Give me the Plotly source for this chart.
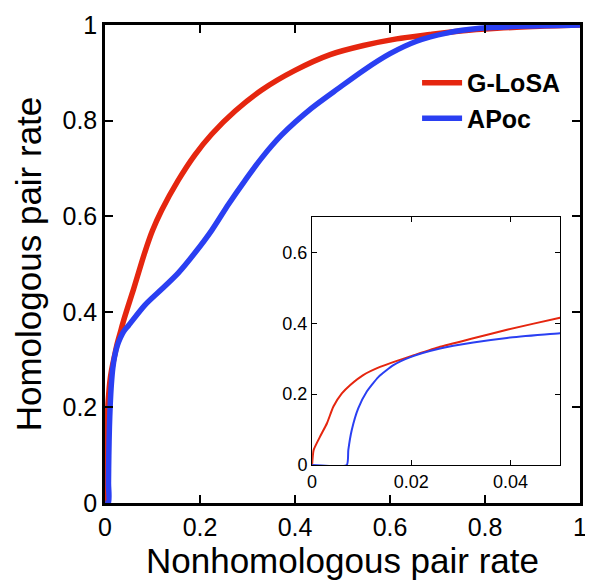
import plotly.graph_objects as go

# G-LoSA ROC-like curve (nonhomologous rate -> homologous rate)
glosa_x = [0, 0.0003, 0.0016, 0.003, 0.0043, 0.006, 0.0077, 0.0103, 0.0137, 0.0171,
           0.0201, 0.0258, 0.0325, 0.0393, 0.05, 0.06, 0.084, 0.10, 0.119, 0.154, 0.189,
           0.225, 0.274, 0.33, 0.40, 0.474, 0.544, 0.614, 0.684, 0.754, 0.825, 0.9, 1.0]
glosa_y = [0, 0.042, 0.080, 0.118, 0.165, 0.202, 0.226, 0.254, 0.277, 0.294,
           0.308, 0.334, 0.358, 0.382, 0.416, 0.447, 0.525, 0.570, 0.612, 0.675, 0.728,
           0.772, 0.820, 0.864, 0.905, 0.938, 0.957, 0.971, 0.980, 0.988, 0.993, 0.997, 1.0]

# APoc curve
apoc_x = [0, 0.007, 0.0073, 0.008, 0.0093, 0.011, 0.0134, 0.0164, 0.0201, 0.0258,
          0.0325, 0.0393, 0.05, 0.084, 0.119, 0.154, 0.189, 0.225, 0.26, 0.295,
          0.33, 0.372, 0.435, 0.495, 0.544, 0.6, 0.656, 0.719, 0.789, 0.9, 1.0]
apoc_y = [0, 0, 0.042, 0.099, 0.160, 0.207, 0.249, 0.282, 0.306, 0.329,
          0.346, 0.359, 0.372, 0.414, 0.447, 0.481, 0.523, 0.571, 0.625, 0.675,
          0.722, 0.770, 0.826, 0.870, 0.905, 0.940, 0.966, 0.983, 0.993, 0.998, 1.0]

series_names = ["G-LoSA", "APoc"]
RED = "#e5260f"
BLUE = "#2a3ff2"
FONT = "Liberation Sans, Arial, sans-serif"

main_ticks = [0, 0.2, 0.4, 0.6, 0.8, 1]
inset_xticks = [0, 0.02, 0.04]
inset_yticks = [0, 0.2, 0.4, 0.6]

fig = go.Figure()
fig.add_trace(go.Scatter(x=glosa_x, y=glosa_y, mode="lines", name=series_names[0],
                         line=dict(color=RED, width=5.5, shape="spline", smoothing=0.8)))
fig.add_trace(go.Scatter(x=apoc_x, y=apoc_y, mode="lines", name=series_names[1],
                         line=dict(color=BLUE, width=5.5, shape="spline", smoothing=0.8)))
fig.add_trace(go.Scatter(x=glosa_x, y=glosa_y, mode="lines", showlegend=False,
                         xaxis="x2", yaxis="y2",
                         line=dict(color=RED, width=2, shape="spline", smoothing=0.5)))
fig.add_trace(go.Scatter(x=apoc_x, y=apoc_y, mode="lines", showlegend=False,
                         xaxis="x2", yaxis="y2",
                         line=dict(color=BLUE, width=2, shape="spline", smoothing=0.5)))

axis_common = dict(showgrid=False, zeroline=False, showline=True, linecolor="black",
                   mirror="ticks", ticks="inside", tickcolor="black", automargin=False)

# page body has an 8px margin, so the figure is 8px smaller and margins shifted
fig.update_layout(
    width=585, height=574,
    margin=dict(l=97, r=13, t=17, b=79),
    plot_bgcolor="white", paper_bgcolor="white",
    font=dict(family=FONT, color="black"),
    xaxis=dict(range=[0, 1], tickvals=main_ticks, linewidth=2.5, ticklen=8, tickwidth=2,
               tickfont=dict(size=25),
               title=dict(text="Nonhomologous pair rate", font=dict(size=35), standoff=6),
               **axis_common),
    yaxis=dict(range=[0, 1], tickvals=main_ticks, linewidth=2.5, ticklen=8, tickwidth=2,
               tickfont=dict(size=25),
               title=dict(text="Homologous pair rate", font=dict(size=35), standoff=11),
               **axis_common),
    xaxis2=dict(domain=[0.436, 0.958], anchor="y2", range=[0, 0.05], tickvals=inset_xticks,
                ticktext=["0", "0.02", "0.04"], linewidth=1.2, ticklen=5, tickwidth=1,
                tickfont=dict(size=18), **axis_common),
    yaxis2=dict(domain=[0.0795, 0.598], anchor="x2", range=[0, 0.7], tickvals=inset_yticks,
                linewidth=1.2, ticklen=5, tickwidth=1,
                tickfont=dict(size=18), **axis_common),
    legend=dict(x=0.657, y=0.927, xanchor="left", yanchor="top",
                bgcolor="rgba(0,0,0,0)", font=dict(size=25, family=FONT, weight="bold"),
                tracegroupgap=0, itemwidth=40),
    showlegend=True,
)

fig.write_html("out.html")
